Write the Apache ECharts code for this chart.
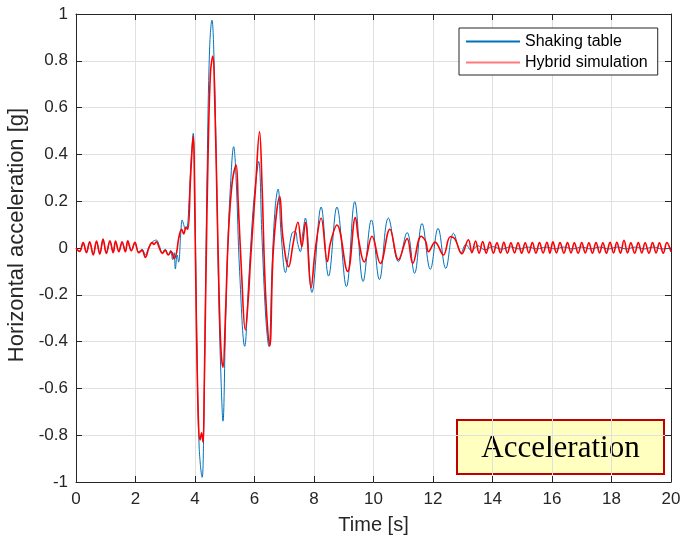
<!DOCTYPE html>
<html><head><meta charset="utf-8">
<script src="https://cdn.jsdelivr.net/npm/echarts@6/dist/echarts.min.js"></script>
<style>html,body{margin:0;padding:0;background:#fff}#c{width:681px;height:542px}</style>
</head><body><div id="c"></div>
<script>
const seriesNames = ['Shaking table', 'Hybrid simulation'];
const xTicks = [0, 2, 4, 6, 8, 10, 12, 14, 16, 18, 20];
const yTicks = [-1, -0.8, -0.6, -0.4, -0.2, 0, 0.2, 0.4, 0.6, 0.8, 1];
const boxLabel = 'Acceleration';

const blueT = [0,0.12,0.24,0.35,0.46,0.58,0.69,0.80,0.91,1.02,1.14,1.25,1.33,1.44,1.55,1.66,1.74,1.86,1.98,2.11,
  2.22,2.33,2.45,2.56,2.70,2.80,2.90,3.00,3.10,3.18,3.25,3.30,3.34,3.40,3.45,3.52,3.57,3.62,3.68,3.74,3.80,3.87,
  3.94,4.00,4.07,4.14,4.24,4.29,4.35,4.41,4.49,4.57,4.63,4.72,4.80,4.88,4.94,5.02,5.10,5.19,5.30,5.38,5.50,5.67,
  5.80,5.95,6.05,6.14,6.25,6.38,6.48,6.60,6.70,6.79,6.90,7.04,7.15,7.26,7.37,7.45,7.54,7.62,7.71,7.93,8.24,8.49,
  8.77,9.09,9.37,9.65,9.93,10.20,10.50,10.84,11.13,11.38,11.63,11.91,12.17,12.43,12.69,12.95,13.10,13.30,13.50,
  13.75,14.00,14.30,14.60,14.90,15.20,15.50,15.80,16.10,16.40,16.70,17.00,17.30,17.60,17.90,18.20,18.50,18.80,
  19.10,19.40,19.70,20.00];
const blueV = [0,-0.012,0.018,-0.016,0.021,-0.024,0.024,-0.021,0.030,-0.018,0.025,-0.016,0.024,-0.013,0.022,-0.013,0.025,-0.010,0.019,-0.016,
  -0.005,-0.030,0.005,0.025,0.034,0.010,-0.020,-0.005,-0.030,-0.010,-0.050,-0.020,-0.090,-0.030,-0.060,0.060,0.120,0.100,0.080,0.085,0.200,0.380,
  0.490,0.150,-0.450,-0.850,-0.980,-0.800,-0.220,0.350,0.850,0.974,0.850,0.350,-0.220,-0.580,-0.740,-0.360,0.000,0.260,0.433,0.300,-0.100,-0.420,
  -0.150,0.160,0.290,0.370,0.050,-0.300,-0.420,-0.050,0.180,0.252,0.050,-0.105,-0.020,0.064,0.070,0.020,-0.016,0.060,0.128,-0.190,0.175,-0.120,
  0.175,-0.165,0.198,-0.143,0.120,-0.135,0.128,-0.058,0.066,-0.108,0.105,-0.091,0.084,-0.087,0.063,-0.020,0.015,-0.012,0.010,
  -0.008,0.006,-0.005,0.005,-0.004,0.004,-0.004,0.004,-0.004,0.004,-0.004,0.004,-0.004,0.004,-0.004,0.004,-0.004,0.004,
  -0.004,0.004,-0.004,0.000];

const redT = [0,0.12,0.24,0.35,0.46,0.58,0.69,0.80,0.91,1.02,1.14,1.25,1.33,1.44,1.55,1.66,1.74,1.86,1.98,2.11,
  2.22,2.33,2.45,2.56,2.62,2.70,2.80,2.90,3.00,3.10,3.20,3.30,3.38,3.45,3.55,3.62,3.70,3.76,3.85,3.94,3.99,4.05,
  4.12,4.17,4.22,4.27,4.31,4.37,4.44,4.52,4.60,4.66,4.74,4.82,4.88,4.94,5.02,5.12,5.25,5.38,5.45,5.57,5.69,5.80,
  5.86,6.03,6.17,6.25,6.37,6.51,6.64,6.85,6.95,7.15,7.30,7.46,7.59,7.71,7.90,8.05,8.24,8.45,8.55,8.77,9.13,9.39,
  9.50,9.69,9.95,10.23,10.55,10.84,11.13,11.32,11.60,11.75,11.85,12.07,12.35,12.58,12.73,12.97,
  13.19,13.31,13.43,13.55,13.67,13.79,13.91,14.03,14.15,14.27,14.38,14.50,14.62,14.74,14.86,14.98,15.10,15.22,
  15.34,15.46,15.58,15.70,15.83,15.93,16.03,16.15,16.27,16.40,16.52,16.64,16.75,16.88,17.00,17.12,17.24,17.36,
  17.48,17.60,17.71,17.83,17.95,18.07,18.18,18.30,18.42,18.54,18.65,18.78,18.90,19.02,19.13,19.26,19.38,19.50,
  19.61,19.74,19.86,20.00];
const redV = [0,-0.015,0.023,-0.020,0.027,-0.030,0.030,-0.026,0.038,-0.023,0.031,-0.020,0.030,-0.016,0.027,-0.016,0.031,-0.012,0.024,-0.020,
  -0.010,-0.040,0.000,0.023,0.015,0.027,0.000,-0.023,-0.010,-0.030,-0.015,-0.045,-0.020,0.040,0.080,0.060,0.090,0.080,0.300,0.480,0.200,-0.350,
  -0.760,-0.820,-0.790,-0.830,-0.600,-0.100,0.400,0.750,0.820,0.650,0.200,-0.250,-0.450,-0.510,-0.300,0.050,0.280,0.355,0.200,-0.120,-0.350,-0.200,
  -0.065,0.250,0.497,0.280,-0.190,-0.420,0.005,0.220,0.050,-0.080,0.020,0.110,0.006,0.110,-0.170,0.000,0.127,-0.058,0.020,0.098,-0.100,0.130,
  0.035,-0.060,0.050,-0.066,0.080,-0.050,0.040,-0.066,0.050,0.030,-0.016,0.025,-0.030,0.048,0.040,-0.025,
  0.035,-0.020,0.030,-0.022,0.028,-0.022,0.025,-0.022,0.022,-0.021,0.024,-0.022,0.022,-0.021,0.022,-0.022,0.022,-0.021,
  0.023,-0.022,0.023,-0.021,0.024,-0.022,0.026,-0.021,0.023,-0.022,0.023,-0.021,0.022,-0.022,0.023,-0.021,0.022,-0.022,
  0.023,-0.021,0.022,-0.022,0.024,-0.021,0.024,-0.022,0.033,-0.021,0.022,-0.022,0.023,-0.021,0.022,-0.022,0.023,-0.021,
  0.022,-0.022,0.023,-0.016];

const zip = (t, v) => t.map((x, i) => [x, v[i]]);
const FONT = 'Liberation Sans, Arial, sans-serif';
const AX = '#262626';
const GRIDC = '#e0e0e0';

const chart = echarts.init(document.getElementById('c'), null, {renderer: 'canvas'});
const baseX = {
  type: 'value', min: xTicks[0], max: xTicks[xTicks.length - 1], interval: xTicks[1] - xTicks[0]
};
const baseY = {
  type: 'value', min: yTicks[0], max: yTicks[yTicks.length - 1], interval: 0.2
};
const tick = {show: true, inside: true, length: 6, lineStyle: {color: AX, width: 1}};
const line = {show: true, onZero: false, lineStyle: {color: AX, width: 1}};
chart.setOption({
  animation: false,
  backgroundColor: '#fff',
  grid: {left: 76, right: 10, top: 14, bottom: 60, show: false, containLabel: false, outerBoundsMode: 'none'},
  xAxis: [
    Object.assign({}, baseX, {
      position: 'bottom', name: 'Time [s]', nameLocation: 'middle', nameGap: 33,
      nameTextStyle: {fontFamily: FONT, fontSize: 20, color: AX},
      axisLine: line, axisTick: tick,
      axisLabel: {fontFamily: FONT, fontSize: 17, color: AX, margin: 9},
      splitLine: {show: true, lineStyle: {color: GRIDC, width: 1}}
    }),
    Object.assign({}, baseX, {
      position: 'top', axisLine: line, axisTick: tick,
      axisLabel: {show: false}, splitLine: {show: false}
    })
  ],
  yAxis: [
    Object.assign({}, baseY, {
      position: 'left', name: 'Horizontal acceleration [g]', nameLocation: 'middle', nameGap: 44,
      nameTextStyle: {fontFamily: FONT, fontSize: 22, color: AX, padding: [0, 0, 0, 26]},
      axisLine: line, axisTick: tick,
      axisLabel: {fontFamily: FONT, fontSize: 17, color: AX, margin: 8},
      splitLine: {show: true, lineStyle: {color: GRIDC, width: 1}}
    }),
    Object.assign({}, baseY, {
      position: 'right', axisLine: line, axisTick: tick,
      axisLabel: {show: false}, splitLine: {show: false}
    })
  ],
  legend: {
    orient: 'vertical', left: 459, top: 28,
    backgroundColor: '#fff', borderColor: AX, borderWidth: 1,
    padding: [5, 10, 4, 7], itemGap: 4, itemWidth: 54, itemHeight: 2,
    textStyle: {fontFamily: FONT, fontSize: 16, color: '#000', lineHeight: 17},
    data: [
      {name: seriesNames[0], icon: 'rect', itemStyle: {color: '#0072BD'}},
      {name: seriesNames[1], icon: 'rect', itemStyle: {color: '#ff7a7a'}}
    ]
  },
  series: [
    {
      name: seriesNames[0], type: 'line', xAxisIndex: 0, yAxisIndex: 0,
      data: zip(blueT, blueV), smooth: 0.4, showSymbol: false, symbol: 'none',
      lineStyle: {color: '#0072BD', width: 1}, itemStyle: {color: '#0072BD'}, z: 2
    },
    {
      name: seriesNames[1], type: 'line', xAxisIndex: 0, yAxisIndex: 0,
      data: zip(redT, redV), smooth: 0.4, showSymbol: false, symbol: 'none',
      lineStyle: {color: '#FF0000', width: 1.6}, itemStyle: {color: '#FF0000'}, z: 3
    }
  ],
  graphic: [{
    type: 'group', left: 456, top: 419,
    children: [
      {type: 'rect', shape: {x: 0, y: 0, width: 207, height: 54},
       style: {fill: '#FFFFC0', stroke: '#C00000', lineWidth: 2}},
      {type: 'text', x: 103.5, y: 28.5,
       style: {text: boxLabel, font: '31px "Liberation Serif", "Times New Roman", serif', fill: '#000',
               textAlign: 'center', textVerticalAlign: 'middle'}}
    ]
  }]
});
</script>
</body></html>
